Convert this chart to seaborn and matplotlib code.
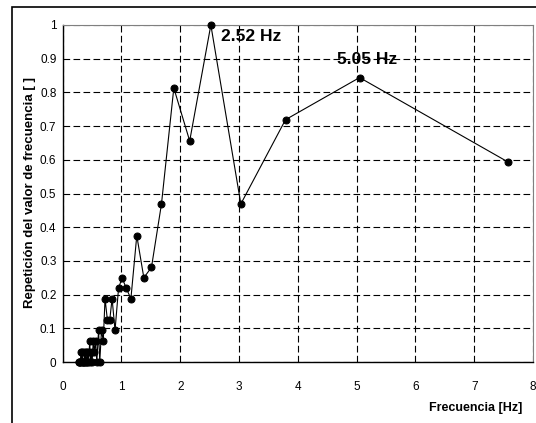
import matplotlib
matplotlib.use("Agg")
import matplotlib.pyplot as plt
from matplotlib.patches import Rectangle
import seaborn as sns
import pandas as pd

# frecuencias [Hz] y repeticion normalizada
frecuencia = [0.27, 0.28, 0.29, 0.30, 0.31, 0.32, 0.33, 0.34, 0.35, 0.36,
              0.37, 0.38, 0.39, 0.40, 0.41, 0.42, 0.43, 0.45, 0.46, 0.47,
              0.49, 0.50, 0.52, 0.54, 0.56, 0.58, 0.61, 0.63, 0.66, 0.69,
              0.72, 0.76, 0.80, 0.84, 0.89, 0.95, 1.01, 1.08, 1.16, 1.26,
              1.38, 1.51, 1.68, 1.89, 2.16, 2.52, 3.03, 3.79, 5.05, 7.57]
repeticion = [0.0, 0.0, 0.0, 0.0, 0.031, 0.0, 0.031, 0.0, 0.0, 0.0,
              0.031, 0.0, 0.031, 0.0, 0.0, 0.031, 0.0, 0.031, 0.063, 0.0,
              0.031, 0.0, 0.063, 0.031, 0.063, 0.0, 0.094, 0.0, 0.094, 0.063,
              0.188, 0.125, 0.125, 0.188, 0.094, 0.219, 0.25, 0.219, 0.188, 0.375,
              0.25, 0.281, 0.469, 0.813, 0.656, 1.0, 0.469, 0.719, 0.844, 0.594]

xticks = [0, 1, 2, 3, 4, 5, 6, 7, 8]
yticks = [0, 0.1, 0.2, 0.3, 0.4, 0.5, 0.6, 0.7, 0.8, 0.9, 1]
ytick_labels = ["0", "0.1", "0.2", "0.3", "0.4", "0.5", "0.6", "0.7", "0.8", "0.9", "1"]

df = pd.DataFrame({"f": frecuencia, "r": repeticion})

sns.set_style("white")
plt.rcParams['font.family'] = ['Liberation Sans', 'DejaVu Sans']
plt.rcParams['text.color'] = 'black'
plt.rcParams['xtick.color'] = 'black'
plt.rcParams['ytick.color'] = 'black'

fig = plt.figure(figsize=(5.36, 4.23), dpi=100)
ax = fig.add_axes([0.117, 0.1442, 0.8774, 0.7967])

sns.lineplot(data=df, x="f", y="r", sort=False, color="black", linewidth=0.8,
             marker="o", markersize=5, markeredgecolor="black", ax=ax,
             clip_on=False, zorder=3)

ax.set_xlim(0, 8)
ax.set_ylim(0, 1)
ax.set_xticks(xticks)
ax.set_xticklabels([str(t) for t in xticks])
ax.set_yticks(yticks)
ax.set_yticklabels(ytick_labels)
ax.tick_params(axis="both", direction="inout", length=7, width=0.8,
               colors="black", labelsize=8.5)
ax.tick_params(axis="x", pad=10)
ax.tick_params(axis="y", pad=1)
ax.set_xlabel("")
ax.set_ylabel("")

ax.grid(True, color="black", linestyle=(0, (6, 3)), linewidth=0.8)
ax.set_axisbelow(True)

for s in ["left", "bottom"]:
    ax.spines[s].set_color("black")
    ax.spines[s].set_linewidth(1.0)
for s in ["top", "right"]:
    ax.spines[s].set_color("#808080")
    ax.spines[s].set_linewidth(0.8)

ax.text(2.70, 0.967, "2.52 Hz", fontsize=12.5, fontweight="bold", ha="left",
        va="center", color="black")
ax.text(5.18, 0.897, "5.05 Hz", fontsize=12.5, fontweight="bold", ha="center",
        va="center", color="black")

fig.text(522 / 536, 1 - 408 / 423, "Frecuencia [Hz]", fontsize=9, fontweight="bold",
         ha="right", va="center", color="black")
fig.text(30 / 536, 1 - 193 / 423, "Repetición del valor de frecuencia [ ]", fontsize=9.5,
         fontweight="bold", rotation=90, ha="center", va="center", color="black")

fig.patches.append(Rectangle((12 / 536, -0.05), 1.1, 1 - 7 / 423 + 0.05,
                             transform=fig.transFigure, fill=False,
                             edgecolor="black", linewidth=1.2))

fig.savefig("out.png", dpi=100)
